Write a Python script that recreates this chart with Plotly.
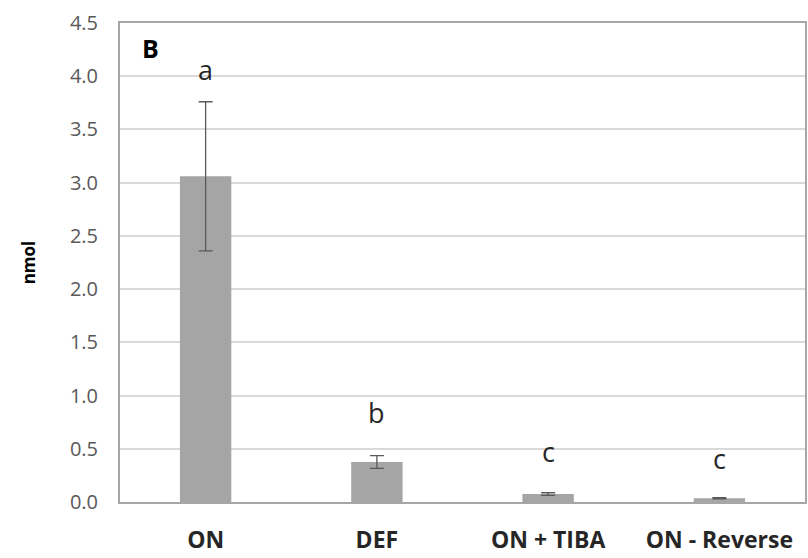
import plotly.graph_objects as go

categories = ["ON", "DEF", "ON + TIBA", "ON - Reverse"]
values = [3.06, 0.375, 0.075, 0.035]
errors = [0.70, 0.06, 0.012, 0.005]
letters = ["a", "b", "c", "c"]
letter_y = [4.06, 0.84, 0.47, 0.41]
y_ticks = [0.0, 0.5, 1.0, 1.5, 2.0, 2.5, 3.0, 3.5, 4.0, 4.5]

FONT = "Open Sans"

fig = go.Figure()
fig.add_trace(go.Bar(
    x=categories, y=values, width=0.3,
    marker=dict(color="#a5a5a5", line=dict(width=0)),
    error_y=dict(type="data", array=errors, visible=True, color="#595959", thickness=1.3, width=7),
))

for c, l, yy in zip(categories, letters, letter_y):
    fig.add_annotation(x=c, y=yy, text=l, showarrow=False, xref="x", yref="y",
                       font=dict(family=FONT, size=27, color="#262626"))

fig.add_annotation(x=0.044, y=0.948, xref="paper", yref="paper", text="<b>B</b>", showarrow=False,
                   xanchor="center", yanchor="middle",
                   font=dict(family=FONT, size=25, color="#000000"))

fig.update_layout(
    width=808, height=558,
    margin=dict(l=120, r=3, t=23, b=56),
    paper_bgcolor="white", plot_bgcolor="white",
    showlegend=False,
    font=dict(family=FONT),
    xaxis=dict(
        showline=True, linecolor="#a6a6a6", linewidth=2, mirror=True,
        tickfont=dict(family=FONT, size=23, color="#262626", weight="bold"),
        ticks="", ticklabelstandoff=16, automargin=False,
    ),
    yaxis=dict(
        range=[0, 4.5], tickvals=y_ticks, ticktext=[f"{v:.1f}" for v in y_ticks],
        showline=True, linecolor="#a6a6a6", linewidth=2, mirror=True,
        showgrid=True, gridcolor="#d9d9d9", gridwidth=1.5,
        zeroline=False, automargin=False,
        tickfont=dict(family=FONT, size=20, color="#595959"),
        ticks="", ticklabelstandoff=16,
        title=dict(text="<b>nmol</b>", font=dict(family=FONT, size=17, color="#000000"), standoff=30),
    ),
)

fig.write_html("out.html")
